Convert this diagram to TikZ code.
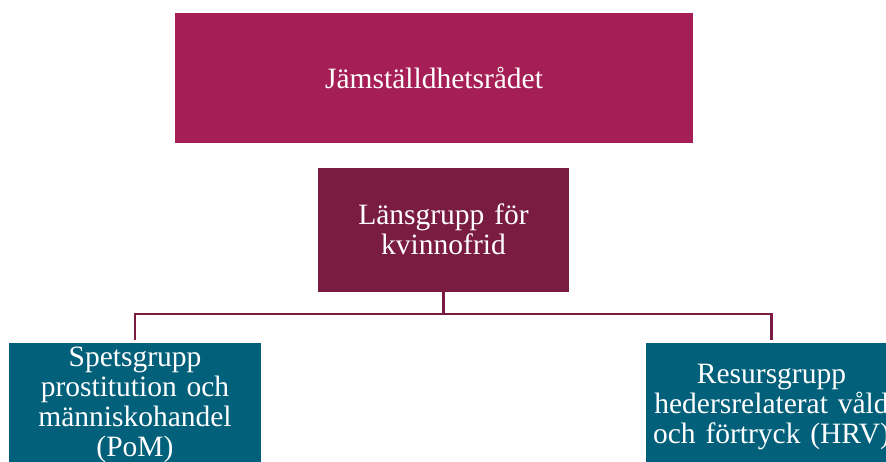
\documentclass[tikz,border=0pt]{standalone}
\usepackage{fontspec}
\setmainfont[WordSpace=0.85]{Liberation Serif}
\usetikzlibrary{positioning}

\definecolor{radred}{HTML}{A51F56}
\definecolor{lanred}{HTML}{7A1B42}
\definecolor{grupteal}{HTML}{03607A}

\begin{document}
\begin{tikzpicture}[x=1pt,y=-1pt,
    box/.style={rectangle, text=white, align=center, inner sep=2pt,
      font=\fontsize{29.5}{29.8}\selectfont},
    conn/.style={draw=lanred, line width=2.6pt, shorten >=3pt}]
        \useasboundingbox (0,0) rectangle (886,461);
        % draw boxes
        \node[box, fill=radred, minimum width=518pt, minimum height=130pt] (rad) at (434,78) {Jämställdhetsrådet};
        \node[box, fill=lanred, minimum width=251pt, minimum height=124pt, text width=240pt] (lans) at (443.5,229.5) {Länsgrupp för\\kvinnofrid};
        \node[box, fill=grupteal, minimum width=252pt, minimum height=124pt, text width=245pt] (spets) at (135,405) {Spetsgrupp\\prostitution och\\människohandel\\(PoM)};
        \node[box, fill=grupteal, minimum width=251pt, minimum height=128pt, text width=248pt] (resurs) at (771.5,407) {Resursgrupp\\hedersrelaterat våld\\och förtryck (HRV)};
        % draw connectors
        \coordinate (bus) at (443.5,314);
        \draw[conn] (lans.south) -- (bus) -| (spets.north);
        \draw[conn] (bus) -| (resurs.north);
      \end{tikzpicture}
\end{document}
